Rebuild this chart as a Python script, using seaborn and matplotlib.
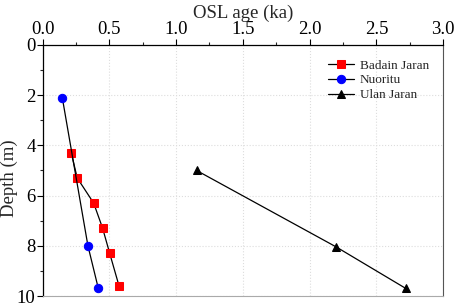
import matplotlib
matplotlib.use("Agg")
import matplotlib.pyplot as plt
import seaborn as sns
import pandas as pd
from matplotlib.ticker import MultipleLocator

# %% data
badain_age = [0.215, 0.26, 0.383, 0.45, 0.503, 0.573]
badain_depth = [4.3, 5.3, 6.3, 7.3, 8.3, 9.6]
nuoritu_age = [0.148, 0.34, 0.418]
nuoritu_depth = [2.1, 8.0, 9.7]
ulan_age = [1.153, 2.2, 2.72]
ulan_depth = [5.0, 8.05, 9.7]

series = [
    ("Badain Jaran", badain_age, badain_depth, "s", "#ff0000"),
    ("Nuoritu", nuoritu_age, nuoritu_depth, "o", "#0000ff"),
    ("Ulan Jaran", ulan_age, ulan_depth, "^", "black"),
]

# %% plot
sns.set_style("white")
plt.rcParams["font.family"] = ["Liberation Serif", "DejaVu Serif"]

fig = plt.figure(figsize=(4.57, 3.03), dpi=100)
ax = fig.add_axes([0.093, 0.023, 0.877, 0.829])

for name, age, depth, mk, col in series:
    df = pd.DataFrame(dict(age=age, depth=depth))
    sns.lineplot(data=df, x="age", y="depth", sort=False, ax=ax, color="black",
                 linewidth=0.9, marker=mk, markersize=6, markerfacecolor=col,
                 markeredgecolor=col, label=name)

ax.set_xlim(0, 3)
ax.set_ylim(10, 0)
ax.xaxis.tick_top()
ax.xaxis.set_label_position("top")
ax.xaxis.set_major_locator(MultipleLocator(0.5))
ax.xaxis.set_minor_locator(MultipleLocator(0.25))
ax.yaxis.set_major_locator(MultipleLocator(2))
ax.yaxis.set_minor_locator(MultipleLocator(1))
ax.xaxis.set_major_formatter(lambda v, p: f"{v:.1f}")
ax.tick_params(axis="both", which="major", direction="out", length=4, width=0.8,
               labelsize=13.5, pad=1, colors="black")
ax.tick_params(axis="both", which="minor", direction="out", length=2.5, width=0.8)
ax.tick_params(axis="x", which="both", top=True, bottom=False)
ax.tick_params(axis="y", which="both", left=True, right=False)
ax.grid(True, which="major", color="#dddddd", linestyle=":", linewidth=0.8)
ax.set_xlabel("OSL age (ka)", fontsize=13.5, labelpad=2)
ax.set_ylabel("Depth (m)", fontsize=13.5)
ax.yaxis.set_label_coords(-0.062, 0.47)

for s in ["top", "left"]:
    ax.spines[s].set_color("black")
    ax.spines[s].set_linewidth(0.9)
ax.spines["right"].set_color("#555555")
ax.spines["bottom"].set_color("#aaaaaa")

ax.legend(loc="upper right", frameon=False, fontsize=9.5, handlelength=2.0,
          borderaxespad=0.7, labelspacing=0.2, handletextpad=0.4)

fig.savefig("out.png", dpi=100)
